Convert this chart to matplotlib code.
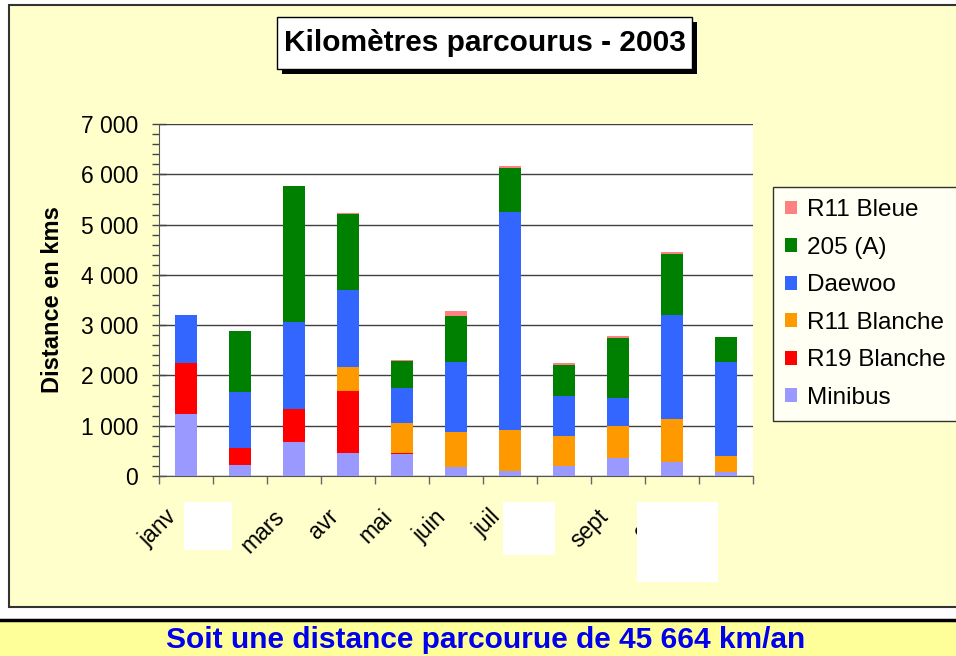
import matplotlib
matplotlib.use('Agg')
import matplotlib.pyplot as plt
from matplotlib.patches import Rectangle
from matplotlib.lines import Line2D
from matplotlib.ticker import FuncFormatter, MultipleLocator, FixedLocator
import matplotlib.transforms as mtransforms
import numpy as np

# ---------------- data ----------------
months = ['janv', 'févr', 'mars', 'avr', 'mai', 'juin', 'juil', 'août', 'sept', 'oct', 'nov']
series_names = ['Minibus', 'R19 Blanche', 'R11 Blanche', 'Daewoo', '205 (A)', 'R11 Bleue']
minibus     = [1230, 220, 675, 455, 437, 180, 100, 200, 360, 280, 80]
r19_blanche = [1015, 345, 655, 1235, 20, 0, 0, 0, 0, 0, 0]
r11_blanche = [0, 0, 0, 475, 597, 695, 815, 595, 635, 855, 320]
daewoo      = [955, 1105, 1730, 1530, 696, 1390, 4335, 795, 555, 2070, 1870]
p205_a      = [0, 1215, 2705, 1510, 536, 915, 875, 615, 1195, 1210, 495]
r11_bleue   = [0, 0, 0, 20, 20, 100, 40, 40, 40, 40, 0]
series_values = [minibus, r19_blanche, r11_blanche, daewoo, p205_a, r11_bleue]
series_colors = ['#9999FF', '#FF0000', '#FF9900', '#3366FF', '#008000', '#FF8080']
y_ticks = [0, 1000, 2000, 3000, 4000, 5000, 6000, 7000]
title_text = 'Kilomètres parcourus - 2003'
ylabel_text = 'Distance en kms'
footer_text = 'Soit une distance parcourue de 45 664 km/an'

# ---------------- figure ----------------
W, H = 956, 656
fig = plt.figure(figsize=(W / 100, H / 100), dpi=100)
fig.patch.set_facecolor('white')
plt.rcParams['font.family'] = ['Liberation Sans', 'DejaVu Sans']

def fx(px):
    return px / W

def fy(py):
    return 1 - py / H

# chart background
fig.add_artist(Rectangle((fx(9), fy(607)), fx(980 - 9), (607 - 5) / H,
                         transform=fig.transFigure, facecolor='#FFFFCC',
                         edgecolor='#333333', linewidth=1.5, zorder=-10))
# footer band
fig.add_artist(Rectangle((0, 0), 1, (656 - 620) / H, transform=fig.transFigure,
                         facecolor='#FFFF99', edgecolor='none', zorder=-10))
fig.add_artist(Line2D([0, 1], [fy(620), fy(620)], transform=fig.transFigure,
                      color='black', linewidth=2.5, zorder=-9))

# axes
ax = fig.add_axes([fx(159), fy(476), 594 / W, 352 / H])
ax.set_facecolor('white')
x = np.arange(len(months))
bottom = np.zeros(len(months))
handles = []
for name, vals, col in zip(series_names, series_values, series_colors):
    b = ax.bar(x, vals, 0.41, bottom=bottom, color=col, label=name,
               linewidth=0, zorder=3)
    handles.append(b)
    bottom += np.array(vals)

ax.set_xlim(-0.5, len(months) - 0.5)
ax.set_ylim(0, 7000)
ax.set_axisbelow(True)
ax.yaxis.set_major_locator(FixedLocator(y_ticks))
ax.yaxis.set_minor_locator(MultipleLocator(200))
ax.yaxis.set_major_formatter(FuncFormatter(lambda v, p: f'{int(v):,}'.replace(',', ' ')))
ax.yaxis.grid(True, which='major', color='#404040', linewidth=1)
for s in ['top', 'right']:
    ax.spines[s].set_visible(False)
ax.spines['left'].set_color('#555555')
ax.spines['bottom'].set_color('#555555')
ax.tick_params(axis='y', which='major', direction='inout', length=10, width=1,
               color='#444444', labelsize=16.5, pad=10)
ax.tick_params(axis='y', which='minor', direction='out', length=5, width=1,
               color='#444444')

ax.set_xticks(x)
ax.set_xticklabels(months, rotation=45, ha='right', va='top', fontsize=16.5)
ax.xaxis.set_minor_locator(FixedLocator(np.arange(-0.5, len(months), 1.0)))
ax.tick_params(axis='x', which='major', length=0, pad=21)
ax.tick_params(axis='x', which='minor', direction='out', length=6, width=1,
               color='#666666')
off = mtransforms.ScaledTranslation(-5 / 100, 0, fig.dpi_scale_trans)
for lab in ax.get_xticklabels():
    lab.set_transform(lab.get_transform() + off)

# y label
fig.text(fx(53), fy(300), ylabel_text, rotation=90, ha='center', va='center',
         fontsize=17, fontweight='bold')

# title box with shadow
fig.add_artist(Rectangle((fx(282), fy(74)), (692 - 277) / W, (69 - 17) / H,
                         transform=fig.transFigure, facecolor='black',
                         edgecolor='none', zorder=5))
fig.add_artist(Rectangle((fx(277), fy(69)), (692 - 277) / W, (69 - 17) / H,
                         transform=fig.transFigure, facecolor='white',
                         edgecolor='black', linewidth=1, zorder=6))
fig.text(fx(484.5), fy(43), title_text, ha='center', va='center',
         fontsize=21.5, fontweight='bold', zorder=7)

# legend
leg = fig.legend(handles[::-1], series_names[::-1], loc='upper left',
                 bbox_to_anchor=(fx(773), fy(187)), fontsize=17.5,
                 frameon=True, fancybox=False, edgecolor='black',
                 handlelength=0.5, handleheight=0.5, handletextpad=0.4,
                 labelspacing=0.64, borderpad=0.5, borderaxespad=0)
leg.get_frame().set_linewidth(1)
leg.set_zorder(8)

# white masking boxes present in the reference
for (x0, y0, x1, y1) in [(184, 502, 232, 550), (503, 502, 555, 555), (637, 502, 718, 582)]:
    fig.add_artist(Rectangle((fx(x0), fy(y1)), (x1 - x0) / W, (y1 - y0) / H,
                             transform=fig.transFigure, facecolor='white',
                             edgecolor='none', zorder=10))

# footer text
fig.text(fx(486), fy(640), footer_text, ha='center', va='center',
         fontsize=21.5, fontweight='bold', color='#0000EE')

fig.savefig('out.png', dpi=100)
